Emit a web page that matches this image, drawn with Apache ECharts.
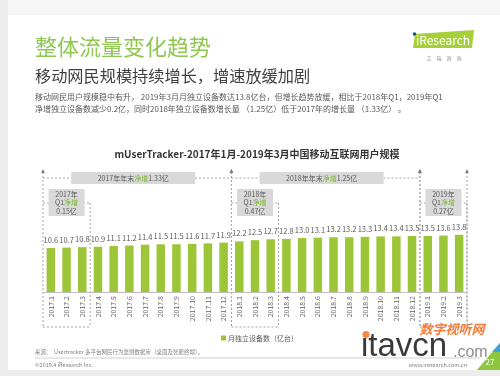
<!DOCTYPE html>
<html>
<head>
<meta charset="utf-8">
<script src="https://cdn.jsdelivr.net/npm/echarts@6/dist/echarts.min.js"></script>
<style>
  html, body { margin: 0; padding: 0; background: #ececec; }
  #chart { width: 500px; height: 376px; }
</style>
</head>
<body>
<div id="chart"></div>
<script>
// months on the category axis
var months = [
  '2017.1', '2017.2', '2017.3', '2017.4', '2017.5', '2017.6', '2017.7', '2017.8', '2017.9', '2017.10', '2017.11', '2017.12',
  '2018.1', '2018.2', '2018.3', '2018.4', '2018.5', '2018.6', '2018.7', '2018.8', '2018.9', '2018.10', '2018.11', '2018.12',
  '2019.1', '2019.2', '2019.3'
];
// 月独立设备数（亿台）
var devices = [
  10.6, 10.7, 10.8, 10.9, 11.1, 11.2, 11.4, 11.5, 11.5, 11.6, 11.7, 11.9,
  12.2, 12.5, 12.7, 12.8, 13.0, 13.1, 13.2, 13.2, 13.3, 13.4, 13.4, 13.5,
  13.5, 13.6, 13.8
];
// annotation brackets
var yearStart = [0, 12, 24];
var yearEnd = [11, 23, 26];
var yearNotes = ['2017年年末', '2018年年末', null];
var yearNet = ['1.33亿', '1.25亿', null];
var q1Notes = ['2017年', '2018年', '2019年'];
var q1Net = ['0.15亿', '0.47亿', '0.27亿'];

var GREEN = '#9cc537';
var FONT = '"Noto Sans CJK SC", "Noto Sans", sans-serif';

var chart = echarts.init(document.getElementById('chart'));

chart.setOption({
  animation: false,
  backgroundColor: '#ececec',
  grid: { left: 43, right: 33, top: 209, bottom: 84 },
  xAxis: {
    type: 'category',
    data: months,
    axisLine: { lineStyle: { color: '#bfbfbf' } },
    axisTick: { show: false },
    axisLabel: { rotate: 90, fontSize: 7, color: '#666', margin: 4, fontFamily: FONT, interval: 0 }
  },
  yAxis: { type: 'value', min: 0, max: 20, show: false },
  series: [{
    name: '月独立设备数（亿台）',
    type: 'bar',
    data: devices,
    barWidth: 8.5,
    itemStyle: { color: GREEN },
    label: {
      show: true, position: 'top', distance: 4, fontSize: 7.5, color: '#595959', fontFamily: FONT,
      formatter: function (p) { return p.value.toFixed(1); }
    }
  }]
});

function px(i) { return chart.convertToPixel({ xAxisIndex: 0 }, months[i]); }
var band = px(1) - px(0);
function leftOf(i) { return px(i) - band / 2; }
function rightOf(i) { return px(i) + band / 2; }

var dash = { stroke: '#a6a6a6', lineWidth: 1, lineDash: [2, 2] };
var g = [];

// slide background
g.push({ type: 'rect', shape: { x: 8, y: 15, width: 492, height: 355 }, style: { fill: '#ffffff' }, z: -10 });
g.push({ type: 'rect', shape: { x: 8, y: 0, width: 492, height: 15 }, style: { fill: '#f6f6f6' }, z: -10 });

// headings
g.push({ type: 'text', x: 35, y: 47, style: { text: '整体流量变化趋势', font: '22px ' + FONT, fill: '#8fc750', verticalAlign: 'middle' } });
g.push({ type: 'text', x: 35, y: 76, style: { text: '移动网民规模持续增长，增速放缓加剧', font: '16.2px ' + FONT, fill: '#404040', verticalAlign: 'middle' } });
g.push({ type: 'text', x: 35, y: 97, style: { text: '移动网民用户规模稳中有升， 2019年3月月独立设备数达13.8亿台，但增长趋势放缓，相比于2018年Q1，2019年Q1', font: '8px ' + FONT, fill: '#595959', verticalAlign: 'middle' } });
g.push({ type: 'text', x: 35, y: 109, style: { text: '净增独立设备数减少0.2亿，同时2018年独立设备数增长量 （1.25亿）低于2017年的增长量 （1.33亿） 。', font: '8px ' + FONT, fill: '#595959', verticalAlign: 'middle' } });

// iResearch logo
g.push({ type: 'polygon', shape: { points: [[415, 34], [474, 30], [472, 48], [413, 48]] }, style: { fill: '#a6cf3a' } });
g.push({ type: 'text', x: 443, y: 40, style: { text: 'iResearch', font: '12px ' + FONT, fill: '#ffffff', align: 'center', verticalAlign: 'middle' } });
g.push({ type: 'circle', shape: { cx: 414.5, cy: 34, r: 1.8 }, style: { fill: '#1d4f91' } });
g.push({ type: 'text', x: 444, y: 58, style: { text: '艾　瑞　咨　询', font: '5px ' + FONT, fill: '#888', align: 'center', verticalAlign: 'middle' } });

// chart title
g.push({ type: 'text', x: 257, y: 154, style: { text: 'mUserTracker-2017年1月-2019年3月中国移动互联网用户规模', font: 'bold 10px ' + FONT, fill: '#333', align: 'center', verticalAlign: 'middle' } });

// brackets
var topY = 170, lineY = 178, q1Y = 203, botY = 327;
for (var k = 0; k < yearStart.length; k++) {
  var x0 = leftOf(yearStart[k]), x1 = rightOf(yearEnd[k]);
  [x0, x1].forEach(function (x) {
    g.push({ type: 'line', shape: { x1: x, y1: topY + 2, x2: x, y2: botY }, style: dash });
    g.push({ type: 'polygon', shape: { points: [[x - 1.8, topY + 3], [x + 1.8, topY + 3], [x, topY - 1]] }, style: { fill: '#777' } });
  });
  if (yearNotes[k]) {
    g.push({ type: 'line', shape: { x1: x0, y1: lineY, x2: x1, y2: lineY }, style: dash });
    var cx = (x0 + x1) / 2 - 4;
    g.push({ type: 'rect', shape: { x: cx - 62, y: lineY - 6, width: 124, height: 12 }, style: { fill: '#d9d9d9' }, z: 5 });
    g.push({ type: 'text', x: cx, y: lineY, z: 6, style: {
      text: yearNotes[k] + '{g|净增}' + yearNet[k], font: '7px ' + FONT, fill: '#595959',
      align: 'center', verticalAlign: 'middle', rich: { g: { fill: '#7dbb2e', font: '7px ' + FONT } }
    } });
  }
  // Q1 bracket
  var qx1 = rightOf(yearStart[k] + 2);
  g.push({ type: 'line', shape: { x1: qx1, y1: q1Y, x2: qx1, y2: botY }, style: dash });
  g.push({ type: 'line', shape: { x1: x0, y1: q1Y, x2: qx1, y2: q1Y }, style: dash });
  g.push({ type: 'line', shape: { x1: x0, y1: botY, x2: qx1, y2: botY }, style: dash });
  var qc = (x0 + qx1) / 2;
  g.push({ type: 'rect', shape: { x: qc - 18, y: q1Y - 14, width: 36, height: 27 }, style: { fill: '#d9d9d9' }, z: 5 });
  g.push({ type: 'text', x: qc, y: q1Y - 0.5, z: 6, style: {
    text: q1Notes[k] + '\nQ1{g|净增}\n' + q1Net[k], font: '7px ' + FONT, fill: '#595959', lineHeight: 8.5,
    align: 'center', verticalAlign: 'middle', rich: { g: { fill: '#7dbb2e', font: '7px ' + FONT } }
  } });
}

// legend
g.push({ type: 'rect', shape: { x: 221, y: 335.5, width: 5, height: 5 }, style: { fill: GREEN } });
g.push({ type: 'text', x: 228, y: 338, style: { text: '月独立设备数（亿台）', font: '7px ' + FONT, fill: '#595959', verticalAlign: 'middle' } });

// footer
g.push({ type: 'text', x: 35, y: 352, style: { text: '来源：  Usertracker 多平台网民行为监测数据库（桌面及智能终端）。', font: '5.5px ' + FONT, fill: '#808080', verticalAlign: 'middle' } });
g.push({ type: 'line', shape: { x1: 35, y1: 358, x2: 480, y2: 358 }, style: { stroke: '#d0d0d0', lineWidth: 1 } });
g.push({ type: 'text', x: 35, y: 365, style: { text: '©2019.4 iResearch Inc.', font: '5.5px ' + FONT, fill: '#808080', verticalAlign: 'middle' } });
g.push({ type: 'text', x: 467, y: 365, style: { text: 'www.iresearch.com.cn', font: '5.5px ' + FONT, fill: '#808080', align: 'right', verticalAlign: 'middle' } });

// page corner
g.push({ type: 'polygon', shape: { points: [[500, 343], [500, 370], [477, 370]] }, style: { fill: '#8cc63f' } });
g.push({ type: 'polygon', shape: { points: [[500, 343], [500, 352], [492, 352]] }, style: { fill: '#3aa6d8' } });
g.push({ type: 'text', x: 490, y: 362, style: { text: '27', font: '8px ' + FONT, fill: '#ffffff', align: 'center', verticalAlign: 'middle' } });

// watermark
g.push({ type: 'text', x: 452, y: 329, z: 20, style: { text: '数字视听网', font: 'italic bold 13px ' + FONT, fill: '#f47b3b', align: 'center', verticalAlign: 'middle' } });
g.push({ type: 'text', x: 361, y: 346.5, z: 20, style: { text: 'itavcn', font: '33px "Liberation Sans", sans-serif', fill: '#3a3a3a', verticalAlign: 'middle' } });
g.push({ type: 'circle', shape: { cx: 366, cy: 334.5, r: 3.5 }, z: 21, style: { fill: '#f5893f' } });
g.push({ type: 'text', x: 453, y: 352.5, z: 20, style: { text: '.com', font: '16px "Liberation Sans", sans-serif', fill: '#8c8c8c', verticalAlign: 'middle' } });

chart.setOption({ graphic: g });
</script>
</body>
</html>
